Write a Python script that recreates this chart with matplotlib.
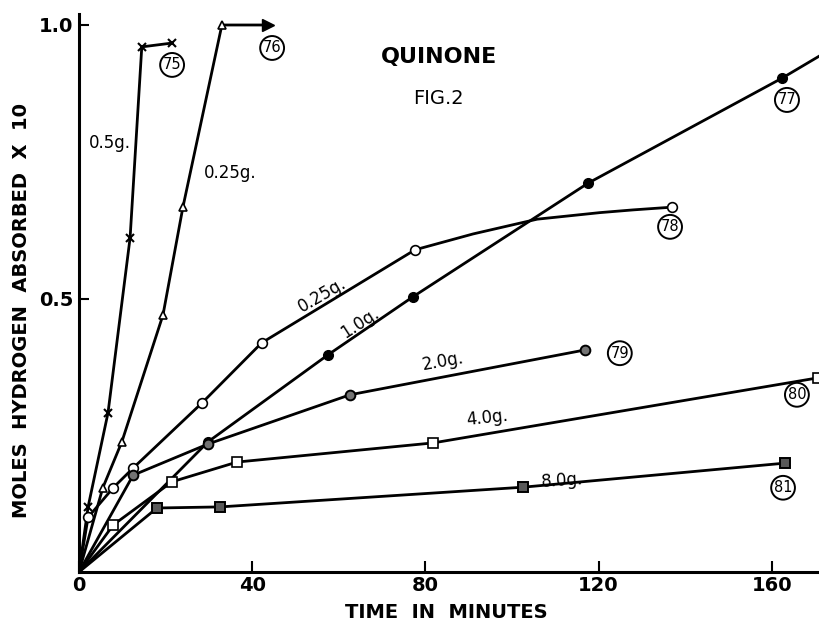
import matplotlib.pyplot as plt
import numpy as np

# minutes / moles H2 absorbed x 10
run75_t = [2.1, 6.7, 11.8, 14.5, 21.5]
run75_h = [0.119, 0.291, 0.611, 0.960, 0.967]

run76_t = [5.5, 9.9, 19.4, 24.0, 33.0]
run76_h = [0.154, 0.238, 0.470, 0.667, 1.000]
run76_arrow_t = [43.7]
run76_arrow_h = [1.000]

run77_t = [29.8, 57.5, 77.1, 117.6, 162.4]
run77_h = [0.238, 0.397, 0.503, 0.711, 0.903]
run77_bend_t = [172.0]
run77_bend_h = [0.948]

run78_t = [2.1, 7.9, 12.5, 28.4, 42.2, 77.6, 137.0]
run78_h = [0.100, 0.154, 0.190, 0.309, 0.419, 0.589, 0.667]
run78_bend_t = [91.0, 105.8, 120.3, 128.0]
run78_bend_h = [0.618, 0.645, 0.657, 0.662]

run79_t = [12.5, 29.8, 62.6, 116.9]
run79_h = [0.177, 0.234, 0.324, 0.406]

run80_t = [7.9, 21.5, 36.5, 81.8, 170.7]
run80_h = [0.086, 0.165, 0.201, 0.236, 0.355]

run81_t = [18.0, 32.6, 102.5, 163.0]
run81_h = [0.117, 0.119, 0.155, 0.199]

x_ticks = [0, 40, 80, 120, 160]
y_ticks = [0.5, 1.0]
y_tick_labels = ['0.5', '1.0']


def curve(t, h, bend_t=(), bend_h=()):
    xs = np.concatenate([[0.0], t, bend_t])
    ys = np.concatenate([[0.0], h, bend_h])
    order = np.argsort(xs)
    return xs[order], ys[order]


fig = plt.figure(figsize=(8.2, 6.26), dpi=100)
ax = fig.add_axes([79 / 820, 54 / 626, 741 / 820, 558 / 626])
ax.set_xlim(0, 741 / 4.33)
ax.set_ylim(0, 558 / 547)

line_kw = dict(color='black', lw=2.0, solid_capstyle='round',
               solid_joinstyle='round', zorder=2)
mk_kw = dict(ls='none', color='black', mec='black', zorder=3)

ax.plot(*curve(run75_t, run75_h), **line_kw)
ax.plot(run75_t, run75_h, marker='x', ms=6, mew=1.5, **mk_kw)

ax.plot(*curve(run76_t, run76_h, run76_arrow_t, run76_arrow_h), **line_kw)
ax.plot(run76_t, run76_h, marker='^', ms=6, mfc='white', mew=1.2, **mk_kw)
ax.plot(run76_arrow_t, run76_arrow_h, marker='>', ms=8, mfc='black', **mk_kw)

ax.plot(*curve(run77_t, run77_h, run77_bend_t, run77_bend_h), **line_kw)
ax.plot(run77_t, run77_h, marker='o', ms=7, mfc='black', **mk_kw)

ax.plot(*curve(run78_t, run78_h, run78_bend_t, run78_bend_h), **line_kw)
ax.plot(run78_t, run78_h, marker='o', ms=7, mfc='white', mew=1.2, **mk_kw)

ax.plot(*curve(run79_t, run79_h), **line_kw)
ax.plot(run79_t, run79_h, marker='o', ms=7, mfc='0.45', mew=1.4, **mk_kw)

ax.plot(*curve(run80_t, run80_h), **line_kw)
ax.plot(run80_t, run80_h, marker='s', ms=6.5, mfc='white', mew=1.2, **mk_kw)

ax.plot(*curve(run81_t, run81_h), **line_kw)
ax.plot(run81_t, run81_h, marker='s', ms=6.5, mfc='0.35', mew=1.4, **mk_kw)

# frame: only left and bottom axes, heavy ink
for side in ['top', 'right']:
    ax.spines[side].set_visible(False)
for side in ['left', 'bottom']:
    ax.spines[side].set_linewidth(2.2)

ax.set_xticks(x_ticks)
ax.set_xticklabels([str(v) for v in x_ticks])
ax.set_yticks(y_ticks)
ax.set_yticklabels(y_tick_labels)
ax.tick_params(axis='x', direction='in', length=8, width=1.5, pad=3,
               labelsize=14)
ax.tick_params(axis='y', direction='in', length=7, width=1.5, pad=4,
               labelsize=14)
for lab in ax.get_xticklabels() + ax.get_yticklabels():
    lab.set_fontweight('bold')

fig.text(22 / 820, 1 - 311 / 626, 'MOLES  HYDROGEN  ABSORBED  X  10',
         rotation=90, ha='center', va='center', fontsize=14,
         fontweight='bold')
fig.text(446 / 820, 1 - 613 / 626, 'TIME  IN  MINUTES', ha='center',
         va='center', fontsize=14, fontweight='bold')

ax.text(83.1, 0.941, 'QUINONE', ha='center', va='center', fontsize=16,
        fontweight='bold')
ax.text(83.1, 0.865, 'FIG.2', ha='center', va='center', fontsize=14)

# amounts of catalyst along each curve
labels = [
    ('0.5g.', 7.2, 0.784, 0),
    ('0.25g.', 34.9, 0.729, 0),
    ('0.25g.', 56.1, 0.506, 30),
    ('1.0g.', 64.9, 0.455, 33),
    ('2.0g.', 84.1, 0.384, 10),
    ('4.0g.', 94.2, 0.282, 6),
    ('8.0g.', 111.5, 0.168, 4),
]
for txt, x, y, rot in labels:
    ax.text(x, y, txt, ha='center', va='center', rotation=rot,
            rotation_mode='anchor', fontsize=12)

# run numbers in circles
runs = [
    ('75', 21.5, 0.927),
    ('76', 44.6, 0.958),
    ('77', 163.5, 0.863),
    ('78', 136.5, 0.631),
    ('79', 124.9, 0.400),
    ('80', 165.8, 0.324),
    ('81', 162.6, 0.154),
]
for txt, x, y in runs:
    ax.text(x, y, txt, ha='center', va='center', fontsize=10.5,
            bbox=dict(boxstyle='circle,pad=0.18', fc='white', ec='black',
                      lw=1.4), clip_on=False)

fig.savefig('out.png', dpi=100, facecolor='white')
